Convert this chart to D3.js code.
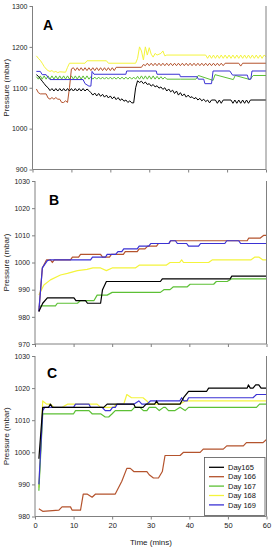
<!DOCTYPE html>
<html><head><meta charset="utf-8">
<script src="https://cdn.jsdelivr.net/npm/d3@7"></script>
<style>
html,body{margin:0;padding:0;background:#fff;}
svg{display:block;font-family:"Liberation Sans",Arial,sans-serif;}
</style></head>
<body><svg id="c" width="273" height="550"></svg>
<script>
// ---------------- DATA ----------------
const seriesNames = ["Day165", "Day 166", "Day 167", "Day 168", "Day 169"];
const seriesColors = ["#000000", "#b4532d", "#5cc035", "#f4f43c", "#3b32d4"];
const timeTicks = [0, 10, 20, 30, 40, 50, 60];
const ticksA = [900, 1000, 1100, 1200, 1300];
const ticksB = [970, 980, 990, 1000, 1010, 1020, 1030];
const ticksC = [980, 990, 1000, 1010, 1020, 1030];

// Panel A  [time (mins), pressure (mbar)]
const a165 = [[1,1132],[1.5,1128],[2,1122],[2.5,1116],[3,1110],[3.5,1104],[4,1100],
 [4.5,1093],[5,1098],[5.5,1092],[6,1098],[6.5,1092],[7,1098],[7.5,1092],[8,1098],[8.5,1092],[9,1098],[9.5,1092],
 [10,1098],[10.5,1092],[11,1098],[11.5,1092],[12,1098],[12.5,1092],[13,1098],[13.5,1092],[14,1097],[14.5,1093],
 [15,1088],[15.5,1082],[16,1087],[16.5,1080],[17,1086],[17.5,1079],[18,1084],[18.5,1077],[19,1082],[19.5,1075],
 [20,1080],[20.5,1073],[21,1078],[21.5,1071],[22,1076],[22.5,1069],[23,1073],[23.5,1067],[24,1070],[24.5,1064],
 [25,1068],[25.5,1063],[26,1063],[26.5,1100],[27,1117],
 [27.5,1113],[28,1116],[28.5,1110],[29,1114],[29.5,1108],[30,1110],[30.5,1104],[31,1108],[31.5,1102],[32,1105],
 [32.5,1099],[33,1102],[33.5,1096],[34,1100],[34.5,1092],[35,1097],[35.5,1090],[36,1094],[36.5,1086],[37,1092],
 [37.5,1082],[38,1088],[38.5,1080],[39,1085],[39.5,1077],[40,1082],[40.5,1076],[41,1078],[41.5,1073],[42,1076],
 [42.5,1070],[43,1074],[43.5,1068],[44,1072],[44.5,1066],[45,1070],[45.5,1063],[46,1070],[47,1070],[47.5,1062],
 [48,1070],[48.5,1062],[49,1070],[51,1070],[51.5,1062],[52,1070],[52.5,1062],[53,1070],[53.5,1062],[54,1070],
 [54.5,1062],[55,1070],[55.5,1062],[56,1070],[60,1070]];
const a166 = [[1,1097],[1.5,1088],[2,1085],[3.5,1085],[4,1075],[4.5,1072],[5,1076],[5.5,1072],[6,1076],[6.5,1072],
 [7,1072],[7.5,1064],[8,1064],[8.5,1068],[9,1064],[9.5,1100],[10,1146],
 [10.5,1149],[11,1142],[11.5,1149],[12,1142],[12.5,1149],[13,1142],[13.5,1149],[14,1142],[14.5,1149],[15,1142],
 [15.5,1149],[16,1142],[16.5,1149],[17,1142],[17.5,1149],[18,1142],[18.5,1149],[19,1142],[19.5,1149],[20,1142],
 [20.5,1149],[21,1142],[21.5,1150],[28,1150],[28.5,1157],
 [29,1154],[29.5,1160],[30,1154],[30.5,1160],[31,1154],[31.5,1160],[32,1154],[32.5,1160],[33,1154],[33.5,1160],
 [34,1154],[34.5,1160],[35,1154],[35.5,1160],[36,1154],[36.5,1160],[37,1154],[37.5,1160],[38,1154],[38.5,1160],
 [39,1154],[39.5,1160],[40,1154],[40.5,1160],[41,1154],[41.5,1160],[42,1154],[42.5,1160],[43,1154],[43.5,1160],
 [44,1154],[44.5,1160],[45,1154],[45.5,1160],[46,1154],[46.5,1160],[47,1154],[47.5,1160],[48,1154],[48.5,1160],
 [49,1154],[49.5,1160],[53,1160],[53.5,1153],[54,1160],[60,1160]];
const a167 = [[1,1127],[1.5,1121],[2,1129],[2.5,1121],[3,1129],[3.5,1121],[4,1129],[4.5,1121],[5,1129],[5.5,1121],
 [6,1129],[6.5,1121],[7,1129],[7.5,1121],[8,1129],[8.5,1121],[9,1129],[9.5,1121],[10,1129],[10.5,1121],
 [11,1129],[11.5,1121],[12,1129],[12.5,1121],[13,1129],[13.5,1121],[14,1129],[14.5,1121],[15,1127],[15.5,1121],
 [16,1126],[16.5,1121],[17,1126],[17.5,1121],[18,1126],[18.5,1121],[19,1126],[19.5,1121],[20,1126],[20.5,1121],
 [21,1126],[21.5,1121],[22,1126],[22.5,1121],[23,1126],[23.5,1121],[24,1126],[24.5,1121],[25,1126],[25.5,1121],
 [26,1126],[26.5,1121],[27,1128],[27.5,1121],[28,1129],[28.5,1121],[29,1129],[29.5,1121],[30,1129],[30.5,1121],
 [31,1129],[31.5,1121],[32,1128],[32.5,1121],[33,1127],[33.5,1121],[34,1126],[34.5,1121],[38,1121],[42,1121],
 [42.6,1130],[46.4,1118],[46.9,1132],[51.6,1120],[52.1,1130],[55.9,1120],[56.7,1130],[60,1130]];
const a168 = [[1,1178],[1.5,1172],[2,1167],[2.5,1160],[3,1152],[3.5,1146],[4,1142],[4.5,1140],[5,1142],[5.5,1138],
 [6,1140],[6.5,1137],[7,1139],[8.5,1138],[9,1150],[9.5,1160],[13.5,1160],[14,1166],[19,1166],[19.5,1160],
 [26.5,1160],[27,1172],[27.5,1200],[28,1190],[28.5,1168],[29,1200],[29.5,1180],[30,1198],[30.5,1182],[31,1175],
 [31.5,1184],[32,1180],[33,1184],[33.5,1190],[34,1178],[34.5,1180],[44.5,1180],
 [45,1172],[45.5,1180],[46,1172],[46.5,1180],[47,1172],[47.5,1180],[48,1172],[48.5,1180],[49,1172],[49.5,1180],
 [50,1172],[50.5,1180],[51,1172],[51.5,1180],[52,1172],[52.5,1180],[53,1172],[53.5,1180],[54,1172],[54.5,1180],
 [55,1172],[55.5,1180],[56,1172],[56.5,1180],[57,1172],[57.5,1180],[58,1172],[58.5,1180],[59,1172],[59.5,1180],
 [60,1176]];
const a169 = [[1,1140],[2,1140],[2.5,1132],[3.5,1132],[4,1125],[4.5,1120],[13,1120],[13.5,1110],[14.5,1104],
 [15,1104],[15.3,1140],[15.8,1133],[24,1133],[24.2,1141],[31.8,1141],[32,1133],[37.8,1133],[38,1127],[42.3,1127],
 [42.6,1121],[44,1121],[44.3,1110],[46,1110],[46.4,1141],[50.7,1141],[51.4,1131],[55.2,1131],[55.5,1121],
 [56.1,1121],[56.4,1141],[60,1141]];

// Panel B
const b165 = [[1,982],[2,985],[3.2,987],[10.1,987],[10.6,986],[13.1,986],[13.6,985],[17,985],[17.5,990],[18.5,993],
 [32.5,993],[33,994],[50.6,994],[51,995],[60,995]];
const b166 = [[1,982],[1.9,998],[3,1001],[4,1001],[4.5,1000],[5,1001],[9.2,1001],[9.7,1002],[11.3,1002],[11.8,1003],
 [17,1003],[17.5,1002],[19.3,1002],[19.8,1003],[22.9,1003],[23.4,1004],[26.5,1004],[27,1005],[28.5,1005],
 [29.2,1006],[31.5,1006],[32,1007],[34.7,1007],[35.2,1008],[55,1008],[55.4,1009],[58.4,1009],[59.3,1010],[60,1010]];
const b167 = [[1,983.7],[1.5,984],[5.3,984],[5.8,985],[11,985],[11.8,986],[15.3,986],[16.1,988],[18.7,988],
 [20,989],[32.5,989],[33.4,990],[35,990],[35.8,991],[39.4,991],[40.2,992],[46.3,992],[47,993],[49.8,993],
 [51,994],[60,994]];
const b168 = [[1,988],[2.3,991.7],[4,993.6],[6.6,995.4],[8.4,996],[11,997],[13.5,997.5],[15,998],[17,998],
 [18.5,997],[20,998],[26,998],[27,999],[34,999],[35,1000],[37.5,1000],[38,1001],[38.5,1000],[45,1000],
 [46,1001],[56,1001],[57,1002],[58,1002],[59,1001],[60,1001]];
const b169 = [[1,982],[1.9,998],[3.2,1000.7],[4,1001],[14.4,1001],[14.9,1002],[18.3,1002],[18.7,1003],[20.9,1003],
 [21.5,1004],[22.5,1004],[23,1005],[26.5,1005],[27,1006],[29.5,1006],[30,1007],[34.7,1007],[35.1,1008],
 [36.4,1008],[36.9,1007],[39.3,1007],[39.8,1006],[42.4,1006],[42.9,1007],[49.2,1007],[49.7,1008],[52.8,1008],
 [53.3,1007],[60,1007]];

// Panel C
const c165 = [[1,998],[2,1014],[3.5,1014],[4,1015],[4.5,1014],[15.7,1014],[17.8,1014],[18.7,1015],[25.6,1015],
 [26,1014],[28,1014],[28.8,1015],[31,1015],[31.5,1016],[32,1015],[37.6,1015],[38.5,1017],[39.8,1019],[44.5,1019],
 [45,1020],[55,1020],[55.3,1021],[55.8,1020],[56.5,1020],[57.2,1021],[58,1021],[58.6,1020],[60,1020]];
const c166 = [[1,982.4],[2,981.6],[6.2,982],[7,983],[9.2,983],[9.6,982],[11.8,982],[12.5,987],[13.5,987],
 [14.8,986],[15.7,987],[20.8,987],[22.5,991],[23.8,995],[24.7,995],[25.6,994],[29,994],[29.6,993],[30.7,992],
 [32,992],[33,994],[33.7,999],[37.6,999],[38.5,1000],[42.8,1000],[43.6,1001],[48.8,1001],[49.7,1002],
 [54,1002],[54.8,1003],[59.1,1003],[60,1004]];
const c167 = [[1,988],[2,1012],[10,1012],[10.5,1013],[14,1013],[14.8,1012],[17,1012],[18.2,1011],[19.1,1011],
 [20,1012],[20.8,1013],[25,1013],[25.8,1014],[27.2,1014],[28.1,1013],[29,1013],[29.6,1014],[31.3,1014],
 [32.2,1013],[33.3,1014],[33.8,1014],[34.6,1013],[36.3,1013],[37.6,1014],[38.9,1013],[39.8,1014],[57.4,1014],
 [58.2,1015],[60,1015]];
const c168 = [[1,989],[2,1016],[3,1015],[4,1015],[5,1014],[7,1014],[8.4,1015],[16.1,1015],[17,1014],[20.4,1014],
 [21,1015],[23,1015],[23.8,1018],[25,1017],[28,1017],[29,1016],[29.6,1015],[37.5,1015],[39,1016],[60,1016]];
const c169 = [[1,990],[2,1013],[2.5,1014],[10,1014],[10.5,1015],[14,1015],[14.4,1014],[17.4,1014],[18.2,1013],
 [19.5,1013],[20.1,1014],[20.8,1014],[21.3,1015],[25.6,1015],[26.9,1016],[27.7,1015],[29,1015],[29.9,1016],
 [37.5,1016],[38,1017],[38.6,1016],[39.4,1016],[39.8,1017],[56.5,1017],[57.4,1018],[60,1018]];

// ---------------- DRAW ----------------
const svg = d3.select("#c");
const panels = [
  {letter:"A", series:[a165,a166,a167,a168,a169], domain:[900,1300], ticks:ticksA,
   x0:32.5, x1:266, top:6, bottom:169.5, lx:43, ly:30, xLabels:false, lw:1},
  {letter:"B", series:[b165,b166,b167,b168,b169], domain:[970,1030], ticks:ticksB,
   x0:35, x1:266.5, top:181, bottom:344, lx:49, ly:205, xLabels:false, lw:1.2},
  {letter:"C", series:[c165,c166,c167,c168,c169], domain:[980,1030], ticks:ticksC,
   x0:35, x1:266.5, top:356, bottom:516.5, lx:47, ly:378, xLabels:true, lw:1.2}
];

panels.forEach(p => {
  const x = d3.scaleLinear().domain([0,60]).range([p.x0, p.x1]);
  const y = d3.scaleLinear().domain(p.domain).range([p.bottom, p.top]);
  const g = svg.append("g");

  const line = d3.line().x(d => x(d[0])).y(d => y(d[1]));
  // draw order: yellow, green, brown, blue, black on top-ish
  [3,2,1,4,0].forEach(i => {
    g.append("path").datum(p.series[i]).attr("d", line)
      .attr("fill","none").attr("stroke", seriesColors[i])
      .attr("stroke-width", p.lw).attr("stroke-linejoin","round");
  });

  const yAx = g.append("g").attr("transform",`translate(${p.x0},0)`)
    .call(d3.axisLeft(y).tickValues(p.ticks).tickSize(3).tickPadding(2).tickFormat(d3.format("d")));
  const xAx = g.append("g").attr("transform",`translate(0,${p.bottom})`)
    .call(d3.axisBottom(x).tickValues(timeTicks).tickSize(3).tickPadding(3)
      .tickFormat(p.xLabels ? d3.format("d") : () => ""));
  [yAx, xAx].forEach(a => {
    a.selectAll(".domain").attr("stroke","#808080").attr("d", null);
    a.selectAll(".tick line").attr("stroke","#808080");
    a.selectAll("text").attr("fill","#222").style("font-size","7px");
  });
  xAx.selectAll("text").style("font-size","7.5px");
  // axis frame lines (left, bottom, right)
  g.append("line").attr("x1",p.x0).attr("x2",p.x0).attr("y1",p.top).attr("y2",p.bottom).attr("stroke","#808080");
  g.append("line").attr("x1",p.x0).attr("x2",p.x1).attr("y1",p.bottom).attr("y2",p.bottom).attr("stroke","#808080");
  g.append("line").attr("x1",p.x1).attr("x2",p.x1).attr("y1",p.top).attr("y2",p.bottom).attr("stroke","#808080");
  yAx.select(".domain").remove(); xAx.select(".domain").remove();

  g.append("text").attr("x",p.lx).attr("y",p.ly).text(p.letter)
    .style("font-weight","bold").style("font-size","14px").attr("fill","#000");
  g.append("text").attr("transform",`translate(9,${(p.top+p.bottom)/2}) rotate(-90)`)
    .attr("text-anchor","middle").style("font-size","8px").attr("fill","#222").text("Pressure (mbar)");
});

svg.append("text").attr("x",151).attr("y",545).attr("text-anchor","middle")
  .style("font-size","8px").attr("fill","#222").text("Time (mins)");

// legend
const lg = svg.append("g");
lg.append("rect").attr("x",204.5).attr("y",457.5).attr("width",60.5).attr("height",58)
  .attr("fill","#fff").attr("stroke","#555").attr("stroke-width",0.8);
seriesNames.forEach((n,i) => {
  const yy = 467.3 + i*9.4;
  lg.append("line").attr("x1",209).attr("x2",224).attr("y1",yy).attr("y2",yy)
    .attr("stroke",seriesColors[i]).attr("stroke-width",1.3);
  lg.append("text").attr("x",228).attr("y",yy+2.6).style("font-size","7.5px").attr("fill","#111").text(n);
});
</script></body></html>
